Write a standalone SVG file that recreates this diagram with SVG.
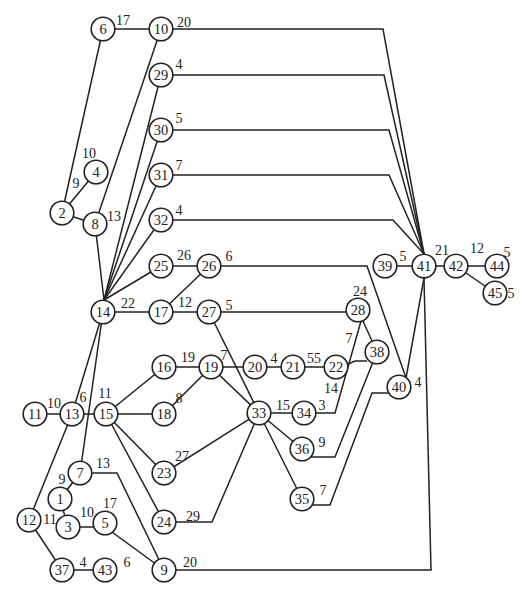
<svg xmlns="http://www.w3.org/2000/svg" width="532" height="596" viewBox="0 0 532 596">
<style>
.e{fill:none;stroke:#222;stroke-width:1.5;stroke-linejoin:miter}
.n circle{fill:#fff;stroke:#222;stroke-width:1.6}
.n text{font-family:"Liberation Serif","DejaVu Serif",serif;font-size:14.5px;fill:#222;text-anchor:middle}
.w{font-family:"Liberation Serif","DejaVu Serif",serif;font-size:14px;fill:#222;text-anchor:middle}
</style>
<rect width="532" height="596" fill="#fff"/>
<g id="connectors">
<path class="e" d="M103 29H161"/>
<path class="e" d="M103 29L62 213"/>
<path class="e" d="M62 213L96 172"/>
<path class="e" d="M62 213L95 224"/>
<path class="e" d="M161 29L95 224"/>
<path class="e" d="M95 224L104 300"/>
<path class="e" d="M161 75L104 300"/>
<path class="e" d="M161 130L104 300"/>
<path class="e" d="M161 175L104 300"/>
<path class="e" d="M161 220L104 300"/>
<path class="e" d="M161 266L104 300"/>
<path class="e" d="M161 266H209"/>
<path class="e" d="M209 266L161 312"/>
<path class="e" d="M103 312H209"/>
<path class="e" d="M161 29H383L424 254"/>
<path class="e" d="M161 75H384L424 254"/>
<path class="e" d="M161 130H389L424 254"/>
<path class="e" d="M161 175H389L424 254"/>
<path class="e" d="M161 220H393L424 254"/>
<path class="e" d="M209 266H367L406 378"/>
<path class="e" d="M209 312H358"/>
<path class="e" d="M209 312L259 413"/>
<path class="e" d="M103 312L72 414"/>
<path class="e" d="M103 312L80 473"/>
<path class="e" d="M35 414H106"/>
<path class="e" d="M72 414L29 520"/>
<path class="e" d="M29 520L62 570H105"/>
<path class="e" d="M106 414L164 367H255H336"/>
<path class="e" d="M106 414H164L211 367"/>
<path class="e" d="M106 414L164 473L259 413"/>
<path class="e" d="M106 414L164 522H212L259 413"/>
<path class="e" d="M211 367L259 413"/>
<path class="e" d="M80 473L60 499L68 527H105L164 570"/>
<path class="e" d="M80 473H117L164 570"/>
<path class="e" d="M164 570H431L424 278"/>
<path class="e" d="M424 278L406 378"/>
<path class="e" d="M259 413H335L361 321"/>
<path class="e" d="M358 310L377 352"/>
<path class="e" d="M346 365L355 361H367"/>
<path class="e" d="M259 413L302 449M308 457H335L377 352"/>
<path class="e" d="M259 413L302 499M310 505H330L372 393H399"/>
<path class="e" d="M385 266H456L497 266M456 266L495 293"/>
</g>
<g id="nodes" class="n">
<g id="n6"><circle cx="103" cy="29" r="11.8"/><text x="103" y="34">6</text></g>
<g id="n10"><circle cx="161" cy="29" r="11.8"/><text x="161" y="34">10</text></g>
<g id="n29"><circle cx="161" cy="75" r="11.8"/><text x="161" y="80">29</text></g>
<g id="n30"><circle cx="161" cy="130" r="11.8"/><text x="161" y="135">30</text></g>
<g id="n31"><circle cx="161" cy="175" r="11.8"/><text x="161" y="180">31</text></g>
<g id="n32"><circle cx="161" cy="220" r="11.8"/><text x="161" y="225">32</text></g>
<g id="n25"><circle cx="161" cy="266" r="11.8"/><text x="161" y="271">25</text></g>
<g id="n26"><circle cx="209" cy="266" r="11.8"/><text x="209" y="271">26</text></g>
<g id="n4"><circle cx="96" cy="172" r="11.8"/><text x="96" y="177">4</text></g>
<g id="n2"><circle cx="62" cy="213" r="11.8"/><text x="62" y="218">2</text></g>
<g id="n8"><circle cx="95" cy="224" r="11.8"/><text x="95" y="229">8</text></g>
<g id="n14"><circle cx="103" cy="312" r="11.8"/><text x="103" y="317">14</text></g>
<g id="n17"><circle cx="161" cy="312" r="11.8"/><text x="161" y="317">17</text></g>
<g id="n27"><circle cx="209" cy="312" r="11.8"/><text x="209" y="317">27</text></g>
<g id="n16"><circle cx="164" cy="367" r="11.8"/><text x="164" y="372">16</text></g>
<g id="n19"><circle cx="211" cy="367" r="11.8"/><text x="211" y="372">19</text></g>
<g id="n20"><circle cx="255" cy="367" r="11.8"/><text x="255" y="372">20</text></g>
<g id="n21"><circle cx="293" cy="367" r="11.8"/><text x="293" y="372">21</text></g>
<g id="n22"><circle cx="336" cy="367" r="11.8"/><text x="336" y="372">22</text></g>
<g id="n11"><circle cx="35" cy="414" r="11.8"/><text x="35" y="419">11</text></g>
<g id="n13"><circle cx="72" cy="414" r="11.8"/><text x="72" y="419">13</text></g>
<g id="n15"><circle cx="106" cy="414" r="11.8"/><text x="106" y="419">15</text></g>
<g id="n18"><circle cx="164" cy="414" r="11.8"/><text x="164" y="419">18</text></g>
<g id="n33"><circle cx="259" cy="413" r="11.8"/><text x="259" y="418">33</text></g>
<g id="n34"><circle cx="304" cy="413" r="11.8"/><text x="304" y="418">34</text></g>
<g id="n23"><circle cx="164" cy="473" r="11.8"/><text x="164" y="478">23</text></g>
<g id="n7"><circle cx="80" cy="473" r="11.8"/><text x="80" y="478">7</text></g>
<g id="n1"><circle cx="60" cy="499" r="11.8"/><text x="60" y="504">1</text></g>
<g id="n12"><circle cx="29" cy="520" r="11.8"/><text x="29" y="525">12</text></g>
<g id="n3"><circle cx="68" cy="527" r="11.8"/><text x="68" y="532">3</text></g>
<g id="n5"><circle cx="105" cy="523" r="11.8"/><text x="105" y="528">5</text></g>
<g id="n24"><circle cx="164" cy="522" r="11.8"/><text x="164" y="527">24</text></g>
<g id="n37"><circle cx="62" cy="570" r="11.8"/><text x="62" y="575">37</text></g>
<g id="n43"><circle cx="105" cy="570" r="11.8"/><text x="105" y="575">43</text></g>
<g id="n9"><circle cx="164" cy="570" r="11.8"/><text x="164" y="575">9</text></g>
<g id="n28"><circle cx="358" cy="310" r="11.8"/><text x="358" y="315">28</text></g>
<g id="n38"><circle cx="377" cy="352" r="11.8"/><text x="377" y="357">38</text></g>
<g id="n40"><circle cx="399" cy="387" r="11.8"/><text x="399" y="392">40</text></g>
<g id="n36"><circle cx="302" cy="449" r="11.8"/><text x="302" y="454">36</text></g>
<g id="n35"><circle cx="302" cy="499" r="11.8"/><text x="302" y="504">35</text></g>
<g id="n39"><circle cx="385" cy="266" r="11.8"/><text x="385" y="271">39</text></g>
<g id="n41"><circle cx="424" cy="266" r="11.8"/><text x="424" y="271">41</text></g>
<g id="n42"><circle cx="456" cy="266" r="11.8"/><text x="456" y="271">42</text></g>
<g id="n44"><circle cx="497" cy="266" r="11.8"/><text x="497" y="271">44</text></g>
<g id="n45"><circle cx="495" cy="293" r="11.8"/><text x="495" y="298">45</text></g>
</g>
<g id="weights" class="w">
<text x="123" y="25">17</text>
<text x="184" y="27">20</text>
<text x="179" y="69">4</text>
<text x="179" y="123">5</text>
<text x="179" y="170">7</text>
<text x="179" y="215">4</text>
<text x="89" y="158">10</text>
<text x="76" y="188">9</text>
<text x="114" y="221">13</text>
<text x="184" y="260">26</text>
<text x="229" y="261">6</text>
<text x="128" y="308">22</text>
<text x="185" y="307">12</text>
<text x="229" y="310">5</text>
<text x="188" y="362">19</text>
<text x="224" y="360">7</text>
<text x="274" y="363">4</text>
<text x="314" y="363">55</text>
<text x="349" y="343">7</text>
<text x="360" y="296">24</text>
<text x="331" y="393">14</text>
<text x="418" y="387">4</text>
<text x="283" y="410">15</text>
<text x="322" y="410">3</text>
<text x="322" y="447">9</text>
<text x="323" y="495">7</text>
<text x="54" y="408">10</text>
<text x="83" y="402">6</text>
<text x="105" y="398">11</text>
<text x="179" y="403">8</text>
<text x="103" y="468">13</text>
<text x="182" y="461">27</text>
<text x="62" y="484">9</text>
<text x="50" y="524">11</text>
<text x="87" y="517">10</text>
<text x="110" y="508">17</text>
<text x="193" y="521">29</text>
<text x="83" y="567">4</text>
<text x="127" y="567">6</text>
<text x="190" y="567">20</text>
<text x="403" y="261">5</text>
<text x="442" y="255">21</text>
<text x="477" y="253">12</text>
<text x="507" y="257">5</text>
<text x="511" y="298">5</text>
</g>
</svg>
